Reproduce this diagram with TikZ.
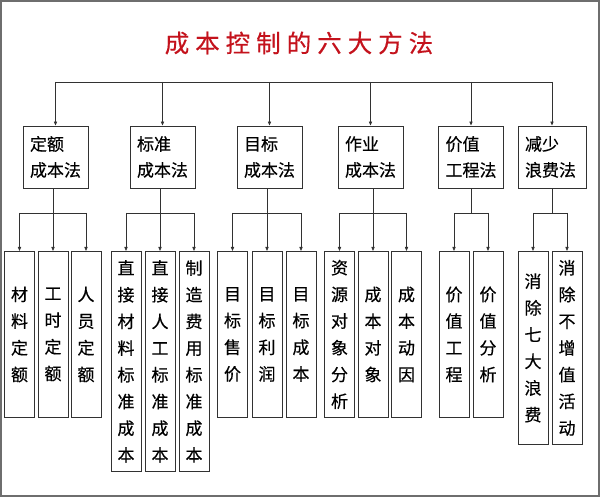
\documentclass[tikz,border=0pt]{standalone}
\usepackage{fontspec}
\setmainfont{Noto Sans CJK SC}[FakeBold=0.4]
\usetikzlibrary{arrows.meta}
\definecolor{titlered}{RGB}{196,18,28}
\definecolor{linegray}{RGB}{50,50,50}
\definecolor{framegray}{RGB}{110,110,110}
\newcommand{\tk}{\kern6pt}
\begin{document}
\begin{tikzpicture}[x=1pt,y=-1pt,
  conn/.style={draw=linegray, line width=0.8pt},
  arr/.style={conn, -{Triangle[length=4pt,width=3.2pt]}},
  topbox/.style={draw=linegray, line width=0.9pt, minimum height=62pt, inner xsep=7pt, inner ysep=0pt, text width=51pt, align=left, font=\fontsize{17}{26}\selectfont},
  subbox/.style={draw=linegray, line width=0.9pt, inner sep=0pt, text width=30pt, align=center, anchor=north, font=\fontsize{17}{26.7}\selectfont},
  shortb/.style={subbox, minimum height=166pt},
  tallb/.style={subbox, minimum height=220pt},
  wasteb/.style={subbox, minimum height=193pt},
]
\useasboundingbox (0,0) rectangle (600,497);
\fill[white] (0,0) rectangle (600,497);
\draw[framegray, line width=1.2pt] (1,1) rectangle (599,496);

\node[text=titlered, font=\fontsize{24.5}{28}\selectfont] (title) at (299,43) {成\tk 本\tk 控\tk 制\tk 的\tk 六\tk 大\tk 方\tk 法};

\node[topbox] (m1) at (55.5,157) {定额\\成本法};
\node[topbox] (m2) at (162.5,157) {标准\\成本法};
\node[topbox] (m3) at (269.5,157) {目标\\成本法};
\node[topbox] (m4) at (370.5,157) {作业\\成本法};
\node[topbox] (m5) at (471,157) {价值\\工程法};
\node[topbox, text width=54pt] (m6) at (552,157) {减少\\浪费法};

\node[shortb] (s1) at (19.5,251) {材\\料\\定\\额};
\node[shortb] (s2) at (53,251) {工\\时\\定\\额};
\node[shortb] (s3) at (86,251) {人\\员\\定\\额};
\node[tallb] (s4) at (126,251) {直\\接\\材\\料\\标\\准\\成\\本};
\node[tallb] (s5) at (160,251) {直\\接\\人\\工\\标\\准\\成\\本};
\node[tallb] (s6) at (194,251) {制\\造\\费\\用\\标\\准\\成\\本};
\node[shortb] (s7) at (232.5,251) {目\\标\\售\\价};
\node[shortb] (s8) at (267,251) {目\\标\\利\\润};
\node[shortb] (s9) at (301,251) {目\\标\\成\\本};
\node[shortb] (s10) at (339.5,251) {资\\源\\对\\象\\分\\析};
\node[shortb] (s11) at (373,251) {成\\本\\对\\象};
\node[shortb] (s12) at (406.5,251) {成\\本\\动\\因};
\node[shortb] (s13) at (454,251) {价\\值\\工\\程};
\node[shortb] (s14) at (488,251) {价\\值\\分\\析};
\node[wasteb] (s15) at (533,251) {消\\除\\七\\大\\浪\\费};
\node[wasteb] (s16) at (567,251) {消\\除\\不\\增\\值\\活\\动};

% top bus
\coordinate (busy) at (0,82);
\draw[conn] (m1.north |- busy) -- (m6.north |- busy);
\foreach \m in {m1,m2,m3,m4,m5,m6}
  \draw[arr] (\m.north |- busy) -- (\m.north);

% sub buses
\coordinate (sby) at (0,213);
\foreach \p/\c in {m1/s2, m2/s5, m3/s8, m4/s11}
  \draw[conn] (\c.north |- \p.south) -- (\c.north |- sby);
\foreach \p in {m5, m6}
  \draw[conn] (\p.south) -- (\p.south |- sby);
\foreach \a/\b in {s1/s3, s4/s6, s7/s9, s10/s12, s13/s14, s15/s16}
  \draw[conn] (\a.north |- sby) -- (\b.north |- sby);
\foreach \s in {s1,s2,s3,s4,s5,s6,s7,s8,s9,s10,s11,s12,s13,s14,s15,s16}
  \draw[arr] (\s.north |- sby) -- (\s.north);
\end{tikzpicture}
\end{document}
